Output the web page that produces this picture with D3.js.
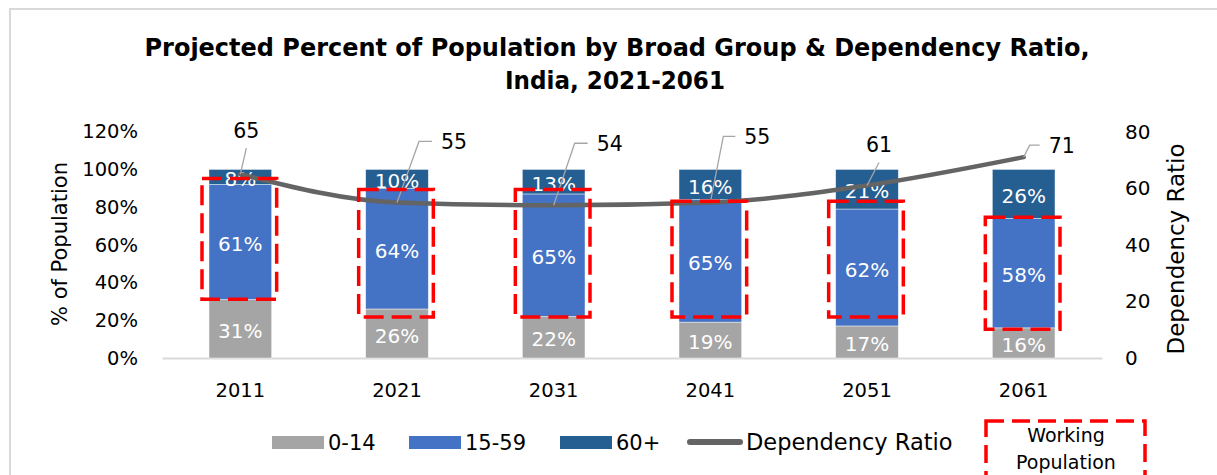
<!doctype html>
<html>
<head>
<meta charset="utf-8">
<style>
  body { margin: 0; background: #fff; }
  svg { font-family: "DejaVu Sans", sans-serif; }
</style>
</head>
<body>
<div id="chart"></div>
<script src="https://cdnjs.cloudflare.com/ajax/libs/d3/7.8.5/d3.min.js"></script>
<script>
  // data
  var years = ['2011', '2021', '2031', '2041', '2051', '2061']
  var groups = ['0-14', '15-59', '60+']
  var child = [31, 26, 22, 19, 17, 16]
  var working = [61, 64, 65, 65, 62, 58]
  var elderly = [8, 10, 13, 16, 21, 26]
  var depRatio = [65, 55, 54, 55, 61, 71]
  var leftTicks = [0, 20, 40, 60, 80, 100, 120]
  var rightTicks = [0, 20, 40, 60, 80]

  // red "working population" boxes, in % of population
  var boxTop = [95.2, 89.4, 89.4, 83.1, 83.1, 74.6]
  var boxBottom = [31.2, 21.7, 21.7, 21.7, 21.7, 15.3]

  // leader line for each ratio label: elbow offset from the point, then horizontal run
  var leaders = [
    { kx: 6, ky: -26, hx: 0 },
    { kx: 22, ky: -61, hx: 13 },
    { kx: 21, ky: -62, hx: 13 },
    { kx: 13, ky: -66, hx: 12 },
    { kx: 12, ky: -23, hx: 0 },
    { kx: 6, ky: -12, hx: 10 }
  ]

  var W = 1217, H = 475
  var colors = ['#a5a5a5', '#4472c4', '#255e91']
  var lineColor = '#646464'

  var svg = d3.select('#chart').append('svg')
    .attr('width', W)
    .attr('height', H)

  // outer frame (only top and left visible)
  svg.append('path')
    .attr('d', 'M10,' + H + 'V9H' + W)
    .attr('fill', 'none')
    .attr('stroke', '#d9d9d9')
    .attr('stroke-width', 2)

  var x = d3.scaleBand().domain(years).range([162, 1102]).paddingInner(0.6).paddingOuter(0.3)
  var yL = d3.scaleLinear().domain([0, 120]).range([358, 131.7])
  var yR = d3.scaleLinear().domain([0, 80]).range([358, 131.7])
  var color = d3.scaleOrdinal().domain(groups).range(colors)

  var rows = years.map((yr, i) => ({ year: yr, '0-14': child[i], '15-59': working[i], '60+': elderly[i] }))
  var stacked = d3.stack().keys(groups)(rows)

  // title
  var title = svg.append('g')
    .attr('font-weight', 'bold')
    .attr('font-size', '25px')
    .attr('text-anchor', 'middle')
  title.append('text')
    .attr('x', 617).attr('y', 47).attr('dy', '0.36em')
    .attr('textLength', 945).attr('lengthAdjust', 'spacingAndGlyphs')
    .text('Projected Percent of Population by Broad Group & Dependency Ratio,')
  title.append('text')
    .attr('x', 615).attr('y', 80).attr('dy', '0.36em')
    .attr('textLength', 220).attr('lengthAdjust', 'spacingAndGlyphs')
    .text('India, 2021-2061')

  // axes
  var axL = svg.append('g')
    .attr('transform', 'translate(162,0)')
    .call(d3.axisLeft(yL).tickValues(leftTicks).tickSize(0).tickPadding(24).tickFormat(d => d + '%'))
  var axR = svg.append('g')
    .attr('transform', 'translate(1102,0)')
    .call(d3.axisRight(yR).tickValues(rightTicks).tickSize(0).tickPadding(23))
  axL.select('.domain').remove()
  axR.select('.domain').remove()

  var axX = svg.append('g')
    .attr('transform', 'translate(0,358)')
    .call(d3.axisBottom(x).tickSize(0).tickSizeOuter(0).tickPadding(25))
  axX.select('.domain').attr('stroke', '#d9d9d9').attr('stroke-width', 2)

  svg.selectAll('.tick text')
    .attr('font-family', '"DejaVu Sans", sans-serif')
    .attr('font-size', '19.5px')
    .attr('fill', '#000')
  axR.selectAll('.tick text').attr('font-size', '20px')

  // axis titles
  svg.append('text')
    .attr('transform', 'translate(59,244) rotate(-90)')
    .attr('text-anchor', 'middle').attr('dy', '0.36em')
    .attr('font-size', '21px')
    .text('% of Population')
  svg.append('text')
    .attr('transform', 'translate(1176,249) rotate(-90)')
    .attr('text-anchor', 'middle').attr('dy', '0.36em')
    .attr('font-size', '23px')
    .text('Dependency Ratio')

  // stacked bars
  var layers = svg.append('g')
    .selectAll('g')
    .data(stacked)
    .join('g')
    .attr('fill', d => color(d.key))

  layers.selectAll('rect')
    .data(d => d)
    .join('rect')
    .attr('x', d => x(d.data.year))
    .attr('width', x.bandwidth())
    .attr('y', d => yL(d[1]))
    .attr('height', d => yL(d[0]) - yL(d[1]))
    .attr('stroke', 'rgba(255,255,255,0.6)')
    .attr('stroke-width', 0.75)

  layers.selectAll('text')
    .data(d => d)
    .join('text')
    .attr('x', d => x(d.data.year) + x.bandwidth() / 2)
    .attr('y', d => (yL(d[0]) + yL(d[1])) / 2 + 2)
    .attr('text-anchor', 'middle')
    .attr('dy', '0.36em')
    .attr('fill', '#fff')
    .attr('font-size', '20px')
    .text(d => (d[1] - d[0]) + '%')

  // dependency ratio line
  var cx = i => x(years[i]) + x.bandwidth() / 2
  var line = d3.line()
    .x((d, i) => cx(i))
    .y(d => yR(d))
    .curve(d3.curveMonotoneX)

  svg.append('path')
    .datum(depRatio)
    .attr('d', line)
    .attr('fill', 'none')
    .attr('stroke', lineColor)
    .attr('stroke-width', 4.5)
    .attr('stroke-linecap', 'round')

  // labels with leader lines
  var lab = svg.append('g')
  depRatio.forEach((v, i) => {
    var px = cx(i), py = yR(v), l = leaders[i]
    var ex = px + l.kx, ey = py + l.ky
    var pts = [[px, py], [ex, ey]]
    if (l.hx) pts.push([ex + l.hx, ey])
    lab.append('path')
      .attr('d', d3.line()(pts))
      .attr('fill', 'none')
      .attr('stroke', '#a6a6a6')
      .attr('stroke-width', 1.3)
    var t = lab.append('text')
      .attr('font-size', '20.5px')
      .attr('dy', '0.36em')
      .text(v)
    if (l.hx) {
      t.attr('x', ex + l.hx + 9).attr('y', ey).attr('text-anchor', 'start')
    } else {
      t.attr('x', ex).attr('y', ey - 18).attr('text-anchor', 'middle')
    }
  })

  // working population boxes
  svg.append('g')
    .selectAll('rect')
    .data(years)
    .join('rect')
    .attr('x', d => x(d) - 7)
    .attr('width', x.bandwidth() + 12)
    .attr('y', (d, i) => yL(boxTop[i]))
    .attr('height', (d, i) => yL(boxBottom[i]) - yL(boxTop[i]))
    .attr('fill', 'none')
    .attr('stroke', '#ff0000')
    .attr('stroke-width', 3.5)
    .attr('stroke-dasharray', '20 8')

  // legend
  var legend = svg.append('g')
  var swatchX = [272, 409, 560]
  groups.forEach((g, i) => {
    legend.append('rect')
      .attr('x', swatchX[i]).attr('y', 436)
      .attr('width', 52).attr('height', 13)
      .attr('fill', color(g))
    legend.append('text')
      .attr('x', swatchX[i] + 56).attr('y', 442).attr('dy', '0.36em')
      .attr('font-size', '21px')
      .text(g)
  })
  legend.append('line')
    .attr('x1', 690).attr('x2', 740).attr('y1', 442).attr('y2', 442)
    .attr('stroke', lineColor).attr('stroke-width', 6).attr('stroke-linecap', 'round')
  legend.append('text')
    .attr('x', 746).attr('y', 442).attr('dy', '0.36em')
    .attr('font-size', '22.5px')
    .text('Dependency Ratio')
  legend.append('rect')
    .attr('x', 986).attr('y', 421)
    .attr('width', 159).attr('height', 70)
    .attr('fill', 'none')
    .attr('stroke', '#ff0000')
    .attr('stroke-width', 3.5)
    .attr('stroke-dasharray', '18 8')
  legend.append('text')
    .attr('x', 1066).attr('y', 435).attr('dy', '0.36em')
    .attr('text-anchor', 'middle').attr('font-size', '19px')
    .text('Working')
  legend.append('text')
    .attr('x', 1066).attr('y', 462).attr('dy', '0.36em')
    .attr('text-anchor', 'middle').attr('font-size', '19px')
    .text('Population')
</script>
</body>
</html>
